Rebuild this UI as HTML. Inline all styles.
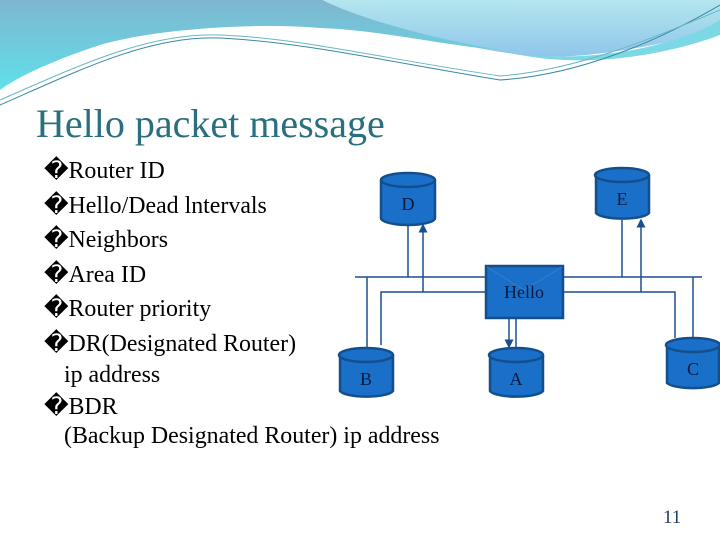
<!DOCTYPE html>
<html><head><style>
body{margin:0;width:720px;height:540px;overflow:hidden;background:#fff;position:relative;font-family:"Liberation Serif",serif;}
.t{position:absolute;white-space:nowrap;}
</style></head><body>
<svg width="720" height="540" style="position:absolute;left:0;top:0">
<defs>
<linearGradient id="g1" x1="0" y1="0" x2="0" y2="1"><stop offset="0" stop-color="#7fb6cf"/><stop offset="1" stop-color="#5fe0ea"/></linearGradient>
<linearGradient id="g2" x1="0" y1="0" x2="0" y2="1"><stop offset="0" stop-color="#b4e6ee"/><stop offset="1" stop-color="#8fc6ea"/></linearGradient>
<marker id="ar" markerWidth="6" markerHeight="6" refX="3" refY="3" orient="auto"><path d="M0,0L6,3L0,6z" fill="#1a4f8c"/></marker>
</defs>
<rect x="0" y="0" width="720" height="2" fill="#5b8aa6"/>
<path d="M0,0H322 C360,20 420,40 520,55 C560,60 620,55 720,30 V0 Z" fill="url(#g2)"/>
<path d="M0,0H322 C360,18 420,36 500,50 C440,45 380,30 320,28 C250,22 150,30 100,45 C60,58 20,75 0,90 Z" fill="url(#g1)"/>
<path d="M520,55 C600,62 680,45 720,20 V35 C680,50 600,70 520,55Z" fill="#7dd8e6"/>
<path d="M0,105 C80,70 150,35 220,38 C300,42 380,60 500,80 C580,75 660,40 720,5" fill="none" stroke="#3a8aa0" stroke-width="1"/>
<path d="M0,100 C80,65 150,32 220,35 C300,38 380,58 500,76 C580,70 660,35 720,10" fill="none" stroke="#6ab6c6" stroke-width="1"/>
<g stroke="#1a4f8c" stroke-width="1.5" fill="none">
<line x1="355" y1="277" x2="702" y2="277"/>
<polyline points="381,345 381,292 675,292 675,338"/>
<line x1="408" y1="225" x2="408" y2="277"/>
<line x1="423" y1="292" x2="423" y2="228" marker-end="url(#ar)"/>
<line x1="367" y1="277" x2="367" y2="348"/>
<line x1="622" y1="220" x2="622" y2="277"/>
<line x1="641" y1="292" x2="641" y2="223" marker-end="url(#ar)"/>
<line x1="693" y1="277" x2="693" y2="338"/>
<line x1="509" y1="318" x2="509" y2="344" marker-end="url(#ar)"/>
<line x1="516" y1="318" x2="516" y2="348"/>
</g>
<g fill="#1a6fc8" stroke="#134f8c" stroke-width="2.5">
<path d="M381,180 V218 A27,7 0 0 0 435,218 V180"/><ellipse cx="408" cy="180" rx="27" ry="7"/>
<path d="M596,175 V213 A27,7 0 0 0 649,213 V175"/><ellipse cx="622" cy="175" rx="27" ry="7"/>
<path d="M340,355 V391 A27,7 0 0 0 393,391 V355"/><ellipse cx="366" cy="355" rx="27" ry="7"/>
<path d="M490,355 V391 A27,7 0 0 0 543,391 V355"/><ellipse cx="516" cy="355" rx="27" ry="7"/>
<path d="M667,345 V383 A27,7 0 0 0 719,383 V345"/><ellipse cx="693" cy="345" rx="27" ry="7"/>
<rect x="486" y="266" width="77" height="52"/>
</g>
<polyline points="487,267 524,290 562,267" fill="none" stroke="#3a7fc8" stroke-width="1"/>
<g font-family="Liberation Serif,serif" font-size="18" fill="#0a1a40" text-anchor="middle">
<text x="408" y="210">D</text><text x="622" y="205">E</text><text x="366" y="385">B</text><text x="516" y="385">A</text><text x="693" y="375">C</text>
<text x="524" y="298">Hello</text>
</g>
</svg>
<div class="t" style="left:36px;top:100px;font-size:40px;color:#2a6f80">Hello packet message</div>
<div style="position:absolute;left:44px;top:154px;font-size:23.9px;line-height:34.5px;color:#000;white-space:nowrap">
<div>�Router ID</div><div>�Hello/Dead lntervals</div><div>�Neighbors</div><div>�Area ID</div><div>�Router priority</div><div>�DR(Designated Router)</div>
<div style="line-height:29px;margin-left:20px">ip address</div><div style="line-height:34px">�BDR</div>
<div style="line-height:24px;margin-left:20px">(Backup Designated Router) ip address</div>
</div>
<div class="t" style="left:663px;top:507px;font-size:19px;color:#1a3f6c">11</div>
</body></html>
